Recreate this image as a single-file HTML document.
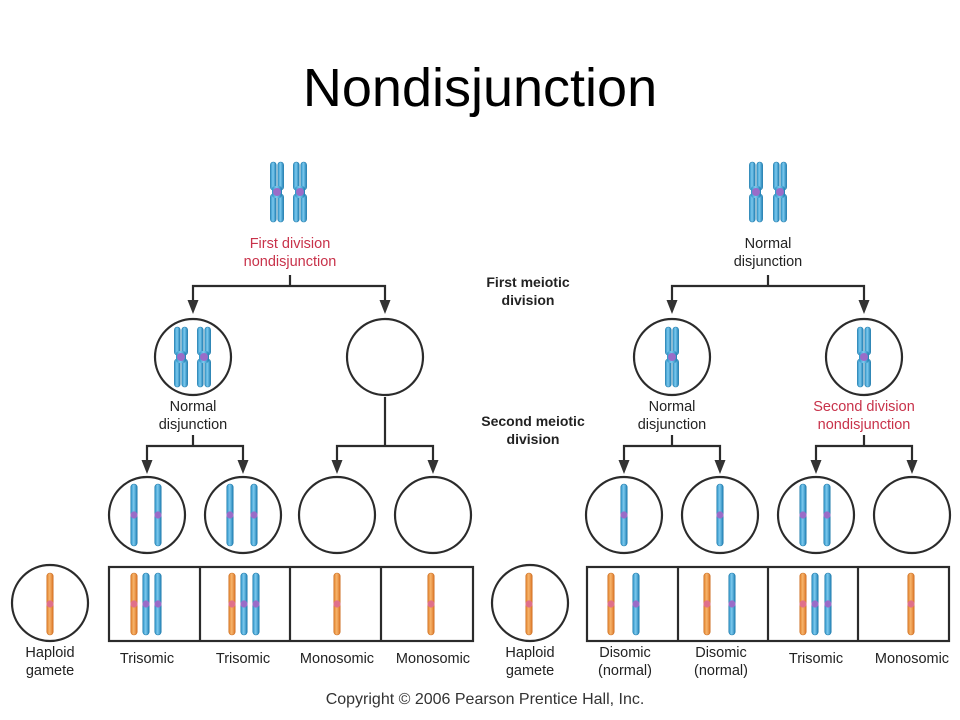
<!DOCTYPE html>
<html><head><meta charset="utf-8"><style>
html,body{margin:0;padding:0;background:#fff;}
svg{display:block;}
text{font-family:"Liberation Sans",sans-serif;}
</style></head><body>
<svg width="960" height="720" viewBox="0 0 960 720" xmlns="http://www.w3.org/2000/svg">
<defs>
<linearGradient id="gb" x1="0" x2="1" y1="0" y2="0"><stop offset="0" stop-color="#2f94c8"/><stop offset="0.45" stop-color="#7cc9ee"/><stop offset="1" stop-color="#1f7fb4"/></linearGradient>
<linearGradient id="go" x1="0" x2="1" y1="0" y2="0"><stop offset="0" stop-color="#e0822c"/><stop offset="0.45" stop-color="#f7b46c"/><stop offset="1" stop-color="#d97424"/></linearGradient>
<g id="bl"><rect x="-3.2" y="-31" width="6.4" height="62" rx="3.2" fill="url(#gb)" stroke="#1b78aa" stroke-width="0.6"/><circle r="3.6" fill="#9a6cc8"/></g>
<g id="or"><rect x="-3.2" y="-31" width="6.4" height="62" rx="3.2" fill="url(#go)" stroke="#cc6e22" stroke-width="0.6"/><circle r="3.6" fill="#e0708a"/></g>
<g id="x">
<rect x="-6.6" y="-30" width="5.8" height="28" rx="2.9" fill="url(#gb)" stroke="#1b78aa" stroke-width="0.6"/>
<rect x="-6.6" y="2" width="5.8" height="28" rx="2.9" fill="url(#gb)" stroke="#1b78aa" stroke-width="0.6"/>
<rect x="0.8" y="-30" width="5.8" height="28" rx="2.9" fill="url(#gb)" stroke="#1b78aa" stroke-width="0.6"/>
<rect x="0.8" y="2" width="5.8" height="28" rx="2.9" fill="url(#gb)" stroke="#1b78aa" stroke-width="0.6"/>
<rect x="-5" y="-6" width="10" height="12" rx="3" fill="url(#gb)"/>
<circle r="4" fill="#9a6cc8"/>
</g>
<g id="ar"><polygon points="-5.5,-14 5.5,-14 0,0" fill="#333"/></g>
</defs>

<text x="480" y="106" font-size="54" text-anchor="middle" fill="#000">Nondisjunction</text>

<g fill="none" stroke="#2b2b2b" stroke-width="2.2">
<circle cx="193" cy="357" r="38"/><circle cx="385" cy="357" r="38"/>
<circle cx="147" cy="515" r="38"/><circle cx="243" cy="515" r="38"/><circle cx="337" cy="515" r="38"/><circle cx="433" cy="515" r="38"/>
<circle cx="50" cy="603" r="38"/>
<rect x="109" y="567" width="364" height="74"/>
<line x1="200" y1="567" x2="200" y2="641"/><line x1="290" y1="567" x2="290" y2="641"/><line x1="381" y1="567" x2="381" y2="641"/>
<circle cx="672" cy="357" r="38"/><circle cx="864" cy="357" r="38"/>
<circle cx="624" cy="515" r="38"/><circle cx="720" cy="515" r="38"/><circle cx="816" cy="515" r="38"/><circle cx="912" cy="515" r="38"/>
<circle cx="530" cy="603" r="38"/>
<rect x="587" y="567" width="362" height="74"/>
<line x1="678" y1="567" x2="678" y2="641"/><line x1="768" y1="567" x2="768" y2="641"/><line x1="858" y1="567" x2="858" y2="641"/>

<path d="M290 275V286M193 300V286H385V300"/>
<path d="M193 435V446M147 460V446H243V460"/>
<path d="M385 397V446M337 460V446H433V460"/>
<path d="M768 275V286M672 300V286H864V300"/>
<path d="M672 435V446M624 460V446H720V460"/>
<path d="M864 435V446M816 460V446H912V460"/>
</g>
<use href="#ar" x="193" y="314"/><use href="#ar" x="385" y="314"/>
<use href="#ar" x="147" y="474"/><use href="#ar" x="243" y="474"/><use href="#ar" x="337" y="474"/><use href="#ar" x="433" y="474"/>
<use href="#ar" x="672" y="314"/><use href="#ar" x="864" y="314"/>
<use href="#ar" x="624" y="474"/><use href="#ar" x="720" y="474"/><use href="#ar" x="816" y="474"/><use href="#ar" x="912" y="474"/>

<use href="#x" x="277" y="192"/><use href="#x" x="300" y="192"/>
<use href="#x" x="181" y="357"/><use href="#x" x="204" y="357"/>
<use href="#x" x="756" y="192"/><use href="#x" x="780" y="192"/>
<use href="#x" x="672" y="357"/><use href="#x" x="864" y="357"/>

<use href="#bl" x="134" y="515"/><use href="#bl" x="158" y="515"/>
<use href="#bl" x="230" y="515"/><use href="#bl" x="254" y="515"/>
<use href="#bl" x="624" y="515"/><use href="#bl" x="720" y="515"/>
<use href="#bl" x="803" y="515"/><use href="#bl" x="827" y="515"/>

<use href="#or" x="50" y="604"/>
<use href="#or" x="134" y="604"/><use href="#bl" x="146" y="604"/><use href="#bl" x="158" y="604"/>
<use href="#or" x="232" y="604"/><use href="#bl" x="244" y="604"/><use href="#bl" x="256" y="604"/>
<use href="#or" x="337" y="604"/>
<use href="#or" x="431" y="604"/>
<use href="#or" x="529" y="604"/>
<use href="#or" x="611" y="604"/><use href="#bl" x="636" y="604"/>
<use href="#or" x="707" y="604"/><use href="#bl" x="732" y="604"/>
<use href="#or" x="803" y="604"/><use href="#bl" x="815" y="604"/><use href="#bl" x="828" y="604"/>
<use href="#or" x="911" y="604"/>

<g font-size="14.5" text-anchor="middle" fill="#222">
<text x="290" y="248" fill="#c8324a">First division</text>
<text x="290" y="266" fill="#c8324a">nondisjunction</text>
<text x="193" y="411">Normal</text><text x="193" y="429">disjunction</text>
<text x="768" y="248">Normal</text><text x="768" y="266">disjunction</text>
<text x="672" y="411">Normal</text><text x="672" y="429">disjunction</text>
<text x="864" y="411" fill="#c8324a">Second division</text>
<text x="864" y="429" fill="#c8324a">nondisjunction</text>
<text x="50" y="657">Haploid</text><text x="50" y="675">gamete</text>
<text x="147" y="663">Trisomic</text><text x="243" y="663">Trisomic</text>
<text x="337" y="663">Monosomic</text><text x="433" y="663">Monosomic</text>
<text x="530" y="657">Haploid</text><text x="530" y="675">gamete</text>
<text x="625" y="657">Disomic</text><text x="625" y="675">(normal)</text>
<text x="721" y="657">Disomic</text><text x="721" y="675">(normal)</text>
<text x="816" y="663">Trisomic</text><text x="912" y="663">Monosomic</text>
</g>
<g font-size="14" font-weight="bold" text-anchor="middle" fill="#222">
<text x="528" y="287">First meiotic</text><text x="528" y="305">division</text>
<text x="533" y="426">Second meiotic</text><text x="533" y="444">division</text>
</g>
<text x="485" y="704" font-size="16" text-anchor="middle" fill="#333">Copyright © 2006 Pearson Prentice Hall, Inc.</text>
</svg>
</body></html>
